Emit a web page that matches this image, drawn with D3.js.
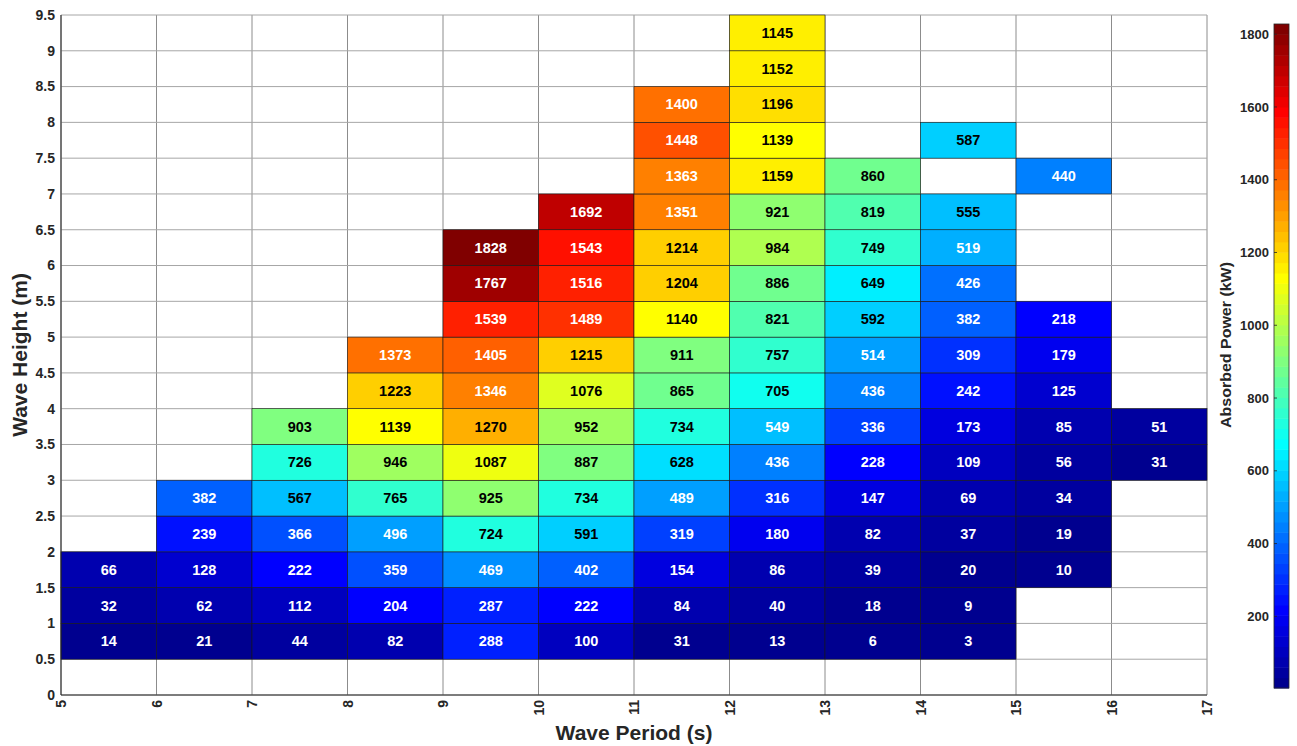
<!DOCTYPE html>
<html>
<head>
<meta charset="utf-8">
<script src="https://cdn.jsdelivr.net/npm/d3@7"></script>
<style>
  html, body { margin: 0; padding: 0; background: #fff; }
  svg { display: block; font-family: "Liberation Sans", Arial, sans-serif; }
</style>
</head>
<body>
<svg id="chart" width="1297" height="746"></svg>
<script>
// ---- data ----
const periods = [5, 6, 7, 8, 9, 10, 11, 12, 13, 14, 15, 16];            // left edge of each column (s)
const heights = [0.5, 1, 1.5, 2, 2.5, 3, 3.5, 4, 4.5, 5, 5.5, 6, 6.5, 7, 7.5, 8, 8.5, 9]; // bottom edge of each row (m)
const N = null;
const row_0_5 = [14, 21, 44, 82, 288, 100, 31, 13, 6, 3, N, N];
const row_1_0 = [32, 62, 112, 204, 287, 222, 84, 40, 18, 9, N, N];
const row_1_5 = [66, 128, 222, 359, 469, 402, 154, 86, 39, 20, 10, N];
const row_2_0 = [N, 239, 366, 496, 724, 591, 319, 180, 82, 37, 19, N];
const row_2_5 = [N, 382, 567, 765, 925, 734, 489, 316, 147, 69, 34, N];
const row_3_0 = [N, N, 726, 946, 1087, 887, 628, 436, 228, 109, 56, 31];
const row_3_5 = [N, N, 903, 1139, 1270, 952, 734, 549, 336, 173, 85, 51];
const row_4_0 = [N, N, N, 1223, 1346, 1076, 865, 705, 436, 242, 125, N];
const row_4_5 = [N, N, N, 1373, 1405, 1215, 911, 757, 514, 309, 179, N];
const row_5_0 = [N, N, N, N, 1539, 1489, 1140, 821, 592, 382, 218, N];
const row_5_5 = [N, N, N, N, 1767, 1516, 1204, 886, 649, 426, N, N];
const row_6_0 = [N, N, N, N, 1828, 1543, 1214, 984, 749, 519, N, N];
const row_6_5 = [N, N, N, N, N, 1692, 1351, 921, 819, 555, N, N];
const row_7_0 = [N, N, N, N, N, N, 1363, 1159, 860, N, 440, N];
const row_7_5 = [N, N, N, N, N, N, 1448, 1139, N, 587, N, N];
const row_8_0 = [N, N, N, N, N, N, 1400, 1196, N, N, N, N];
const row_8_5 = [N, N, N, N, N, N, N, 1152, N, N, N, N];
const row_9_0 = [N, N, N, N, N, N, N, 1145, N, N, N, N];
const rows = [row_0_5, row_1_0, row_1_5, row_2_0, row_2_5, row_3_0, row_3_5, row_4_0, row_4_5,
              row_5_0, row_5_5, row_6_0, row_6_5, row_7_0, row_7_5, row_8_0, row_8_5, row_9_0];
const xTicks = [5, 6, 7, 8, 9, 10, 11, 12, 13, 14, 15, 16, 17];
const yTicks = [0, 0.5, 1, 1.5, 2, 2.5, 3, 3.5, 4, 4.5, 5, 5.5, 6, 6.5, 7, 7.5, 8, 8.5, 9, 9.5];
const cbTicks = [200, 400, 600, 800, 1000, 1200, 1400, 1600, 1800];
const colorDomain = [3, 1828];
const xTitle = "Wave Period (s)";
const yTitle = "Wave Height (m)";
const cbTitle = "Absorbed Power (kW)";

// ---- build cells ----
const cells = [];
rows.forEach((r, i) => r.forEach((v, j) => {
  if (v !== null) cells.push({ p: periods[j], h: heights[i], v });
}));

// ---- jet colormap (MATLAB jet, 64 levels) ----
function jetRow(k, n) {
  const x = k / n;
  const c = t => Math.max(0, Math.min(1, t));
  const r = c(1.5 - Math.abs(4 * x - 3));
  const g = c(1.5 - Math.abs(4 * x - 2));
  const b = c(1.5 - Math.abs(4 * x - 1));
  return d3.rgb(Math.round(r * 255), Math.round(g * 255), Math.round(b * 255)).formatHex();
}
const jet64 = d3.range(1, 65).map(k => jetRow(k, 64));
const color = d3.scaleQuantize().domain(colorDomain).range(jet64);

// ---- layout ----
const svg = d3.select("#chart");
const L = 61, R = 1207, T = 15, B = 695;
const x = d3.scaleLinear().domain([5, 17]).range([L, R]);
const y = d3.scaleLinear().domain([0, 9.5]).range([B, T]);
const axisColor = "#262626";

// grid lines
const grid = svg.append("g");
grid.selectAll("line.v").data(xTicks).join("line")
  .attr("x1", d => x(d)).attr("x2", d => x(d)).attr("y1", T).attr("y2", B)
  .attr("stroke", "#8c8c8c").attr("stroke-width", 1);
grid.selectAll("line.h").data(yTicks).join("line")
  .attr("x1", L).attr("x2", R).attr("y1", d => y(d)).attr("y2", d => y(d))
  .attr("stroke", "#a6a6a6").attr("stroke-width", 1);

// cells
svg.append("g").selectAll("rect").data(cells).join("rect")
  .attr("x", d => x(d.p)).attr("y", d => y(d.h + 0.5))
  .attr("width", d => x(d.p + 1) - x(d.p))
  .attr("height", d => y(d.h) - y(d.h + 0.5))
  .attr("fill", d => color(d.v))
  .attr("stroke", "#1a1a1a").attr("stroke-width", 0.6);

// labels
svg.append("g").selectAll("text").data(cells).join("text")
  .attr("x", d => x(d.p + 0.5)).attr("y", d => y(d.h + 0.25))
  .attr("text-anchor", "middle").attr("dominant-baseline", "central")
  .attr("font-size", 14.5).attr("font-weight", "bold")
  .attr("fill", d => (d.v > 550 && d.v < 1300) ? "#000" : "#fff")
  .text(d => d.v);

// axes frame
svg.append("line").attr("x1", L).attr("x2", L).attr("y1", T).attr("y2", B)
  .attr("stroke", axisColor).attr("stroke-width", 1);
svg.append("line").attr("x1", L).attr("x2", R).attr("y1", B).attr("y2", B)
  .attr("stroke", axisColor).attr("stroke-width", 1);

// x tick labels (rotated)
svg.append("g").selectAll("text").data(xTicks).join("text")
  .attr("transform", d => `translate(${x(d) + 5},${B + 5}) rotate(-90)`)
  .attr("text-anchor", "end")
  .attr("font-size", 14).attr("font-weight", "bold").attr("fill", axisColor)
  .text(d => d);

// y tick labels
svg.append("g").selectAll("text").data(yTicks).join("text")
  .attr("x", L - 6).attr("y", d => y(d)).attr("dy", "0.35em")
  .attr("text-anchor", "end")
  .attr("font-size", 14).attr("font-weight", "bold").attr("fill", axisColor)
  .text(d => d);

// axis titles
svg.append("text").attr("x", (L + R) / 2).attr("y", 740)
  .attr("text-anchor", "middle").attr("font-size", 21).attr("font-weight", "bold")
  .attr("fill", axisColor).text(xTitle);
svg.append("text").attr("transform", `translate(27,${(T + B) / 2}) rotate(-90)`)
  .attr("text-anchor", "middle").attr("font-size", 21).attr("font-weight", "bold")
  .attr("fill", axisColor).text(yTitle);

// colorbar
const cbX = 1274, cbW = 15, cbTop = 24, cbBot = 688;
const cy = d3.scaleLinear().domain(colorDomain).range([cbBot, cbTop]);
const step = (colorDomain[1] - colorDomain[0]) / 64;
svg.append("g").selectAll("rect").data(jet64).join("rect")
  .attr("x", cbX).attr("width", cbW)
  .attr("y", (d, i) => cy(colorDomain[0] + (i + 1) * step))
  .attr("height", (d, i) => cy(colorDomain[0] + i * step) - cy(colorDomain[0] + (i + 1) * step) + 0.5)
  .attr("fill", d => d);
svg.append("rect").attr("x", cbX).attr("y", cbTop).attr("width", cbW).attr("height", cbBot - cbTop)
  .attr("fill", "none").attr("stroke", axisColor).attr("stroke-width", 0.8);
const cbAxis = svg.append("g");
cbAxis.selectAll("line").data(cbTicks).join("line")
  .attr("x1", cbX).attr("x2", cbX + 3).attr("y1", d => cy(d)).attr("y2", d => cy(d))
  .attr("stroke", axisColor).attr("stroke-width", 0.8);
cbAxis.selectAll("text").data(cbTicks).join("text")
  .attr("x", cbX - 5).attr("y", d => cy(d)).attr("dy", "0.35em")
  .attr("text-anchor", "end").attr("font-size", 13).attr("font-weight", "bold")
  .attr("fill", axisColor).text(d => d);
svg.append("text").attr("transform", `translate(1231,345) rotate(-90)`)
  .attr("text-anchor", "middle").attr("font-size", 14).attr("font-weight", "bold")
  .attr("textLength", 166).attr("lengthAdjust", "spacingAndGlyphs")
  .attr("fill", axisColor).text(cbTitle);
</script>
</body>
</html>
